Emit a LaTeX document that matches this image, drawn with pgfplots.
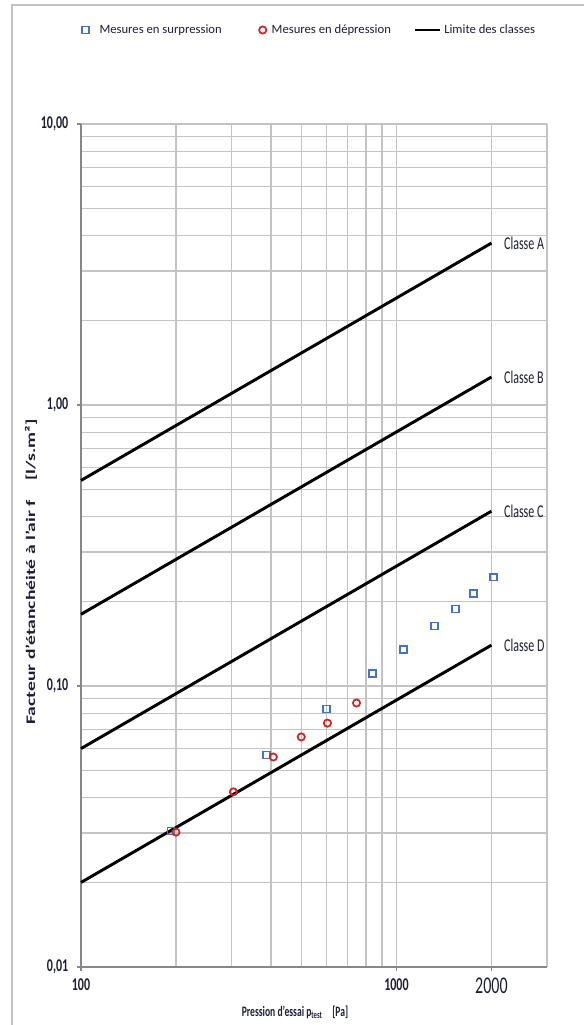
\documentclass[border=0pt]{standalone}
\usepackage{pgfplots}
\pgfplotsset{compat=1.18}
\usepackage{fontspec}
\setmainfont{Carlito}
\usepackage{graphicx}
\definecolor{gridc}{RGB}{195,195,195}
\definecolor{axc}{RGB}{135,135,135}
\definecolor{sqblue}{RGB}{68,114,196}
\definecolor{cired}{RGB}{205,35,35}
\definecolor{txt}{RGB}{30,30,50}
\newcommand{\vs}[1]{\scalebox{1}[1.5]{#1}}
\begin{document}
\begin{tikzpicture}
\useasboundingbox (0,0) rectangle (438pt,-768.75pt);
\draw[gridc, line width=0.8pt] (9pt,-770pt) -- (9pt,-3.75pt) -- (440pt,-3.75pt);
\begin{axis}[
  at={(60.75pt,-725.25pt)}, anchor=south west,
  scale only axis, width=349.5pt, height=632.25pt,
  xmode=log, ymode=log,
  xmin=100, xmax=3000, ymin=0.01, ymax=10,
  separate axis lines,
  axis x line*=bottom, axis y line*=left,
  axis line style={axc, line width=1pt},
  xtick={100,1000,2000},
  xticklabels={\vs{\bfseries 100},\vs{\bfseries 1000},\vs{\large 2000}},
  ytick={0.01,0.1,1,10},
  yticklabels={\vs{\bfseries 0,01},\vs{\bfseries 0,10},\vs{\bfseries 1,00},\vs{\bfseries 10,00}},
  minor xtick={200,300,400,500,600,700,800,900,2000,3000},
  minor ytick={0.02,0.03,0.04,0.05,0.06,0.07,0.08,0.09,0.2,0.3,0.4,0.5,0.6,0.7,0.8,0.9,2,3,4,5,6,7,8,9},
  grid=both,
  major grid style={gridc, line width=0.9pt},
  minor grid style={gridc, line width=0.9pt},
  tick align=outside,
  major tick length=3pt, minor tick length=0pt,
  tick style={axc, line width=0.8pt},
  tick label style={font=\small, text=txt},
  xticklabel style={yshift=-2pt},
  yticklabel style={xshift=-3pt},
  legend style={at={(0.491,1.1115)}, anchor=center, draw=none, fill=none,
    legend columns=3, font=\fontsize{9.5}{11}\selectfont, text=txt,
    /tikz/column 1/.style={column sep=6pt},
    /tikz/column 2/.style={column sep=26pt},
    /tikz/column 3/.style={column sep=2pt},
    /tikz/column 4/.style={column sep=15pt},
    /tikz/column 5/.style={column sep=0pt}},
  legend cell align=left,
  clip=false,
]
\addplot[black, line width=2.2pt, forget plot] coordinates {(100,0.539) (2000,3.77)};
\addplot[black, line width=2.2pt, forget plot] coordinates {(100,0.180) (2000,1.258)};
\addplot[black, line width=2.2pt, forget plot] coordinates {(100,0.0599) (2000,0.419)};
\addplot[black, line width=2.2pt, forget plot] coordinates {(100,0.0200) (2000,0.1398)};
\addplot[only marks, mark=square, mark size=2.6pt, sqblue, line width=1.3pt] coordinates {
(193,0.0305) (387,0.0568) (600,0.0828) (839,0.111) (1052,0.135) (1320,0.1635) (1538,0.188) (1756,0.214) (2032,0.244)};
\addlegendentry{Mesures en surpression}
\addplot[only marks, mark=o, mark size=2.7pt, cired, line width=1.3pt] coordinates {
(200,0.0302) (304,0.042) (407,0.0559) (499,0.0659) (604,0.0738) (747,0.087)};
\addlegendentry{Mesures en dépression}
\addlegendimage{legend image code/.code={\draw[black, line width=2pt] (0pt,0pt) -- (19pt,0pt);}}
\addlegendentry{Limite des classes}
\node[anchor=west, text=txt, font=\small] at (axis cs:2000,3.77) {\hspace{6pt}\vs{Classe A}};
\node[anchor=west, text=txt, font=\small] at (axis cs:2000,1.258) {\hspace{6pt}\vs{Classe B}};
\node[anchor=west, text=txt, font=\small] at (axis cs:2000,0.419) {\hspace{6pt}\vs{Classe C}};
\node[anchor=west, text=txt, font=\small] at (axis cs:2000,0.1398) {\hspace{6pt}\vs{Classe D}};
\end{axis}
\node[rotate=90, font=\fontsize{9.8}{12}\selectfont\bfseries, text=txt] at (23.25pt,-429pt) {\scalebox{1.5}[1]{Facteur d'étanchéité à l'air f\quad[l/s.m²]}};
\node[font=\fontsize{7.2}{9}\selectfont\bfseries, text=txt] at (221.25pt,-759pt) {\vs{Pression d'essai p\textsubscript{test}\quad[Pa]}};
\end{tikzpicture}
\end{document}
